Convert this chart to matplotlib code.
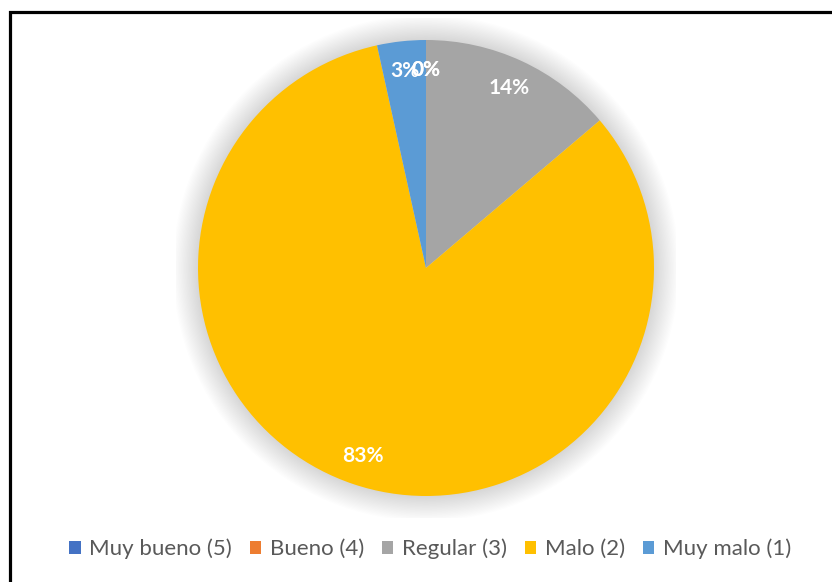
import matplotlib
matplotlib.use("Agg")
import matplotlib.pyplot as plt
from matplotlib.patches import Circle, Rectangle

# Data
categories = ['Muy bueno (5)', 'Bueno (4)', 'Regular (3)', 'Malo (2)', 'Muy malo (1)']
counts = [0, 0, 4, 24, 1]
colors = ['#4472C4', '#ED7D31', '#A5A5A5', '#FFC000', '#5B9BD5']

plt.rcParams['font.family'] = ['Lato', 'DejaVu Sans']

fig = plt.figure(figsize=(8.32, 5.82), dpi=100)

# pie axes: center (426, 268) px, radius 228 px
half = 250
ax = fig.add_axes([(426 - half) / 832, (582 - 268 - half) / 582, 2 * half / 832, 2 * half / 582])
ax.set_aspect('equal')
ax.axis('off')

# soft shadow around the pie
for k in range(1, 21):
    ax.add_patch(Circle((0, 0), 1 + k * 0.0055, color='#000000', alpha=0.008, lw=0, zorder=0))

wedges, texts, autotexts = ax.pie(counts, colors=colors, startangle=90, counterclock=False,
                                  radius=1, autopct='%1.0f%%', pctdistance=0.87,
                                  wedgeprops=dict(linewidth=0, zorder=2),
                                  textprops=dict(color='white', fontsize=15, fontweight='bold'))
for t in autotexts:
    t.set_zorder(5)

lim = half / 228
ax.set_xlim(-lim, lim)
ax.set_ylim(-lim, lim)

leg = fig.legend(wedges, categories, loc='center', bbox_to_anchor=(0.517, 1 - 549 / 582), ncol=5,
                 frameon=False, handlelength=0.5, handleheight=0.5, handletextpad=0.4,
                 columnspacing=0.8, fontsize=16)
for t in leg.get_texts():
    t.set_color('#595959')

# black frame
fig.patches.append(Rectangle((9.5 / 832, -0.1), 1.2, 1 - 11.5 / 582 + 0.1, transform=fig.transFigure,
                             fill=False, edgecolor='black', linewidth=2.3, figure=fig))

fig.savefig('out.png', dpi=100)
